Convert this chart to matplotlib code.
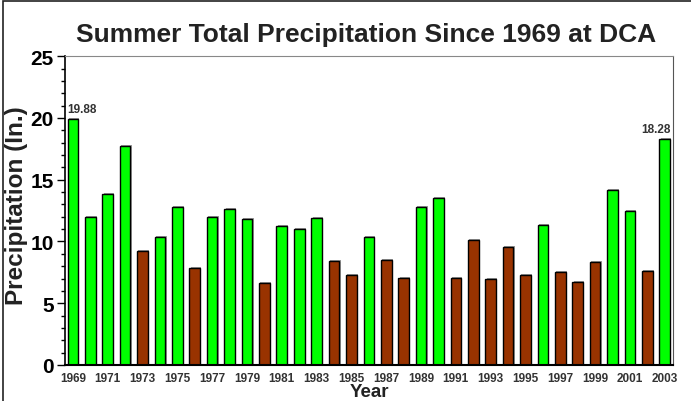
import numpy as np
import matplotlib
matplotlib.use("Agg")
import matplotlib.pyplot as plt
from matplotlib.ticker import MultipleLocator
from matplotlib.patches import Rectangle

# summer (JJA) precipitation totals at DCA, inches
years = list(range(1969, 2004))
precip = [19.88, 12.0, 13.81, 17.72, 9.2, 10.33, 12.78, 7.82, 12.0, 12.6,
          11.79, 6.61, 11.22, 11.0, 11.89, 8.41, 7.28, 10.33, 8.52, 7.07,
          12.78, 13.56, 7.07, 10.09, 6.93, 9.55, 7.28, 11.33, 7.5, 6.72,
          8.31, 14.16, 12.46, 7.63, 18.28]
normal = 10.2
tick_years = years[::2]
labeled = {1969: ("19.88", "left", -0.35), 2003: ("18.28", "right", 0.35)}

wet = "#00ff00"
dry = "#993300"
colors = [wet if p > normal else dry for p in precip]

plt.rcParams['font.family'] = ['Liberation Sans', 'DejaVu Sans']

fig = plt.figure(figsize=(6.91, 4.02), dpi=100)
ax = fig.add_axes([0.094, 0.0896, 0.880, 0.768])

# outer frame of the picture (top and left edges visible)
fig.add_artist(Rectangle((0.004, -0.01), 1.2, 1.005, transform=fig.transFigure,
                         fill=False, lw=1.2, ec="#222222"))

# drop shadows, then the bars
ax.bar(np.array(years) + 0.07, np.array(precip) + 0.08, width=0.61,
       color="#9a9a9a", zorder=1)
ax.bar(years, precip, width=0.61, color=colors, edgecolor="black",
       linewidth=1.0, zorder=2)

for yr, (txt, ha, dx) in labeled.items():
    ax.text(yr + dx, precip[years.index(yr)] + 0.35, txt, ha=ha, va="bottom",
            fontsize=8.5, fontweight="bold", color="#333333")

ax.set_xlim(1968.54, 2003.48)
ax.set_ylim(0, 25)
ax.yaxis.set_major_locator(MultipleLocator(5))
ax.yaxis.set_minor_locator(MultipleLocator(1))
ax.set_xticks(tick_years)
ax.set_xticklabels([str(y) for y in tick_years], fontsize=8.5, fontweight="bold",
                   color="#333333")
ax.tick_params(axis="x", length=0, pad=5)
ax.tick_params(axis="y", which="major", length=6, width=1, labelsize=15, pad=2)
ax.tick_params(axis="y", which="minor", length=3, width=1)
for lab in ax.get_yticklabels():
    lab.set_fontweight("bold")

ax.spines["left"].set_linewidth(1.2)
ax.spines["bottom"].set_linewidth(1.5)
ax.spines["top"].set_color("#888888")
ax.spines["right"].set_color("#555555")

ax.set_ylabel("Precipitation (In.)", fontsize=17.5, fontweight="bold", color="#222222")
ax.yaxis.set_label_coords(-0.06, 0.52)
ax.set_xlabel("Year", fontsize=13.5, fontweight="bold", color="#222222")
ax.xaxis.set_label_coords(0.5, -0.058)
fig.text(0.53, 0.912, "Summer Total Precipitation Since 1969 at DCA", ha="center",
         va="center", fontsize=19, fontweight="bold", color="#222222")

fig.savefig("out.png", dpi=100)
